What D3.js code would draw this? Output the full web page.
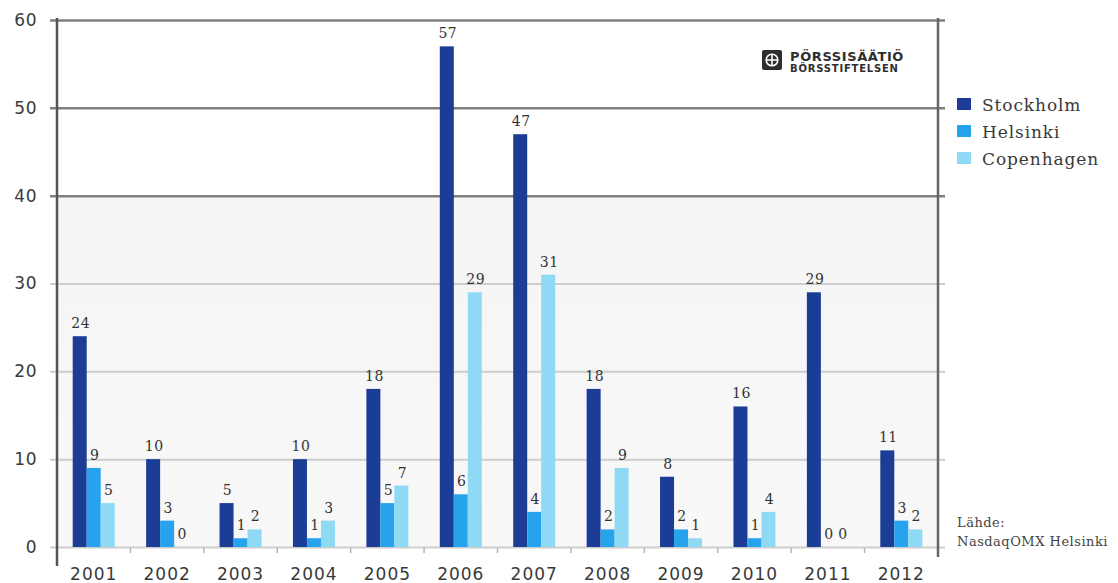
<!DOCTYPE html>
<html>
<head>
<meta charset="utf-8">
<script src="https://cdn.jsdelivr.net/npm/d3@7"></script>
<style>
  html, body { margin: 0; padding: 0; background: #ffffff; }
  svg { display: block; }
</style>
</head>
<body>
<svg id="chart" width="1118" height="583"></svg>
<script>
// Listings per year on the Nordic exchanges
const years = ["2001","2002","2003","2004","2005","2006","2007","2008","2009","2010","2011","2012"];
const seriesNames = ["Stockholm", "Helsinki", "Copenhagen"];
const stockholm  = [24, 10, 5, 10, 18, 57, 47, 18, 8, 16, 29, 11];
const helsinki   = [9, 3, 1, 1, 5, 6, 4, 2, 2, 1, 0, 3];
const copenhagen = [5, 0, 2, 3, 7, 29, 31, 9, 1, 4, 0, 2];
const yTicks = [0, 10, 20, 30, 40, 50, 60];
const colors = ["#1b3d95", "#27a2ec", "#8ed9f4"];
const sourceLines = ["Lähde:", "NasdaqOMX Helsinki"];

const values = [stockholm, helsinki, copenhagen];

const svg = d3.select("#chart");
const plotLeft = 57, plotRight = 938, plotTop = 20, plotBottom = 547;

const x = d3.scaleBand().domain(years).range([plotLeft, plotRight]);
const xs = d3.scaleBand().domain(seriesNames).range([0, 42]);
const y = d3.scaleLinear().domain([0, 60]).range([plotBottom, plotTop]);

// Plot background: white upper zone, pale grey lower zone
const defs = svg.append("defs");
const grad = defs.append("linearGradient").attr("id", "lowerBg")
  .attr("x1", 0).attr("y1", 0).attr("x2", 0).attr("y2", 1);
grad.append("stop").attr("offset", "0%").attr("stop-color", "#f5f5f5");
grad.append("stop").attr("offset", "100%").attr("stop-color", "#f8f8f8");
svg.append("rect")
  .attr("x", plotLeft).attr("y", y(40))
  .attr("width", plotRight - plotLeft).attr("height", plotBottom - y(40))
  .attr("fill", "url(#lowerBg)");

// Y axis with gridlines
const yAxis = d3.axisLeft(y)
  .tickValues(yTicks)
  .tickSizeInner(-(945 - 50))
  .tickSizeOuter(0)
  .tickPadding(13);
const gy = svg.append("g").attr("transform", "translate(50,0)").call(yAxis);
gy.select(".domain").remove();
gy.selectAll(".tick line")
  .attr("stroke", d => d >= 40 ? "#808080" : "#cdcdcd")
  .attr("stroke-width", d => d >= 40 ? 2.5 : 2);
gy.selectAll(".tick text")
  .attr("font-family", "DejaVu Sans, Verdana, sans-serif")
  .attr("font-size", 17)
  .attr("letter-spacing", 0.5)
  .attr("fill", "#3a3a3a");

// Small separators between year groups
svg.append("g").selectAll("line")
  .data(years.slice(1))
  .join("line")
  .attr("x1", d => x(d)).attr("x2", d => x(d))
  .attr("y1", plotBottom + 1).attr("y2", plotBottom + 6)
  .attr("stroke", "#b5b5b5").attr("stroke-width", 1.5);

// X axis labels
const xAxis = d3.axisBottom(x).tickSize(0).tickPadding(12);
const gx = svg.append("g").attr("transform", `translate(0,${plotBottom + 9})`).call(xAxis);
gx.select(".domain").remove();
gx.selectAll(".tick text")
  .attr("font-family", "DejaVu Sans, Verdana, sans-serif")
  .attr("font-size", 17)
  .attr("letter-spacing", 1)
  .attr("fill", "#3a3a3a");

// Bars
const groups = svg.append("g").selectAll("g")
  .data(years)
  .join("g")
  .attr("transform", d => `translate(${x(d) + x.bandwidth() / 2 - 21},0)`);

groups.selectAll("rect")
  .data((d, i) => seriesNames.map((s, k) => ({ s, k, v: values[k][i] })))
  .join("rect")
  .attr("x", d => xs(d.s))
  .attr("width", xs.bandwidth())
  .attr("y", d => y(d.v))
  .attr("height", d => y(0) - y(d.v))
  .attr("fill", d => colors[d.k]);

// Value labels
groups.selectAll("text")
  .data((d, i) => seriesNames.map((s, k) => ({ s, k, v: values[k][i] })))
  .join("text")
  .attr("x", d => xs(d.s) + xs.bandwidth() / 2 + 1)
  .attr("y", d => y(d.v) - 8)
  .attr("text-anchor", "middle")
  .attr("font-family", "DejaVu Serif, serif")
  .attr("font-size", 14)
  .attr("letter-spacing", 0.5)
  .attr("fill", "#333")
  .text(d => d.v);

// Frame: left axis and right border
svg.append("line").attr("x1", plotLeft).attr("x2", plotLeft).attr("y1", 18).attr("y2", 566)
  .attr("stroke", "#555").attr("stroke-width", 2.5);
svg.append("line").attr("x1", plotRight).attr("x2", plotRight).attr("y1", 18).attr("y2", 557)
  .attr("stroke", "#666").attr("stroke-width", 2.5);

// Legend
const legend = svg.append("g").selectAll("g")
  .data(seriesNames)
  .join("g")
  .attr("transform", (d, i) => `translate(957,${98 + i * 27})`);
legend.append("rect")
  .attr("width", 14).attr("height", 12)
  .attr("fill", (d, i) => colors[i]);
legend.append("text")
  .attr("x", 25).attr("y", 13)
  .attr("font-family", "DejaVu Serif, serif")
  .attr("font-size", 17)
  .attr("letter-spacing", 0.9)
  .attr("fill", "#3a3a3a")
  .text(d => d);

// Foundation logo
const logo = svg.append("g").attr("transform", "translate(762,50)");
logo.append("rect").attr("width", 20).attr("height", 20).attr("rx", 2).attr("fill", "#2e2e2e");
logo.append("circle").attr("cx", 10).attr("cy", 10).attr("r", 5.8)
  .attr("fill", "none").attr("stroke", "#fff").attr("stroke-width", 1.6);
logo.append("path").attr("d", "M4,10H16M10,4V16")
  .attr("stroke", "#fff").attr("stroke-width", 1.6);
logo.append("text").attr("x", 28).attr("y", 11)
  .attr("font-family", "DejaVu Sans, sans-serif")
  .attr("font-weight", "bold").attr("font-size", 13).attr("letter-spacing", 0.6).attr("fill", "#2e2e2e")
  .text("PÖRSSISÄÄTIÖ");
logo.append("text").attr("x", 28).attr("y", 22)
  .attr("font-family", "DejaVu Sans, sans-serif")
  .attr("font-weight", "bold").attr("font-size", 10).attr("letter-spacing", 0.8).attr("fill", "#2e2e2e")
  .text("BÖRSSTIFTELSEN");

// Source note
svg.append("g").selectAll("text")
  .data(sourceLines)
  .join("text")
  .attr("x", 957)
  .attr("y", (d, i) => 527 + i * 19)
  .attr("font-family", "DejaVu Serif, serif")
  .attr("font-size", 13)
  .attr("letter-spacing", 0.5)
  .attr("fill", "#444")
  .text(d => d);
</script>
</body>
</html>
